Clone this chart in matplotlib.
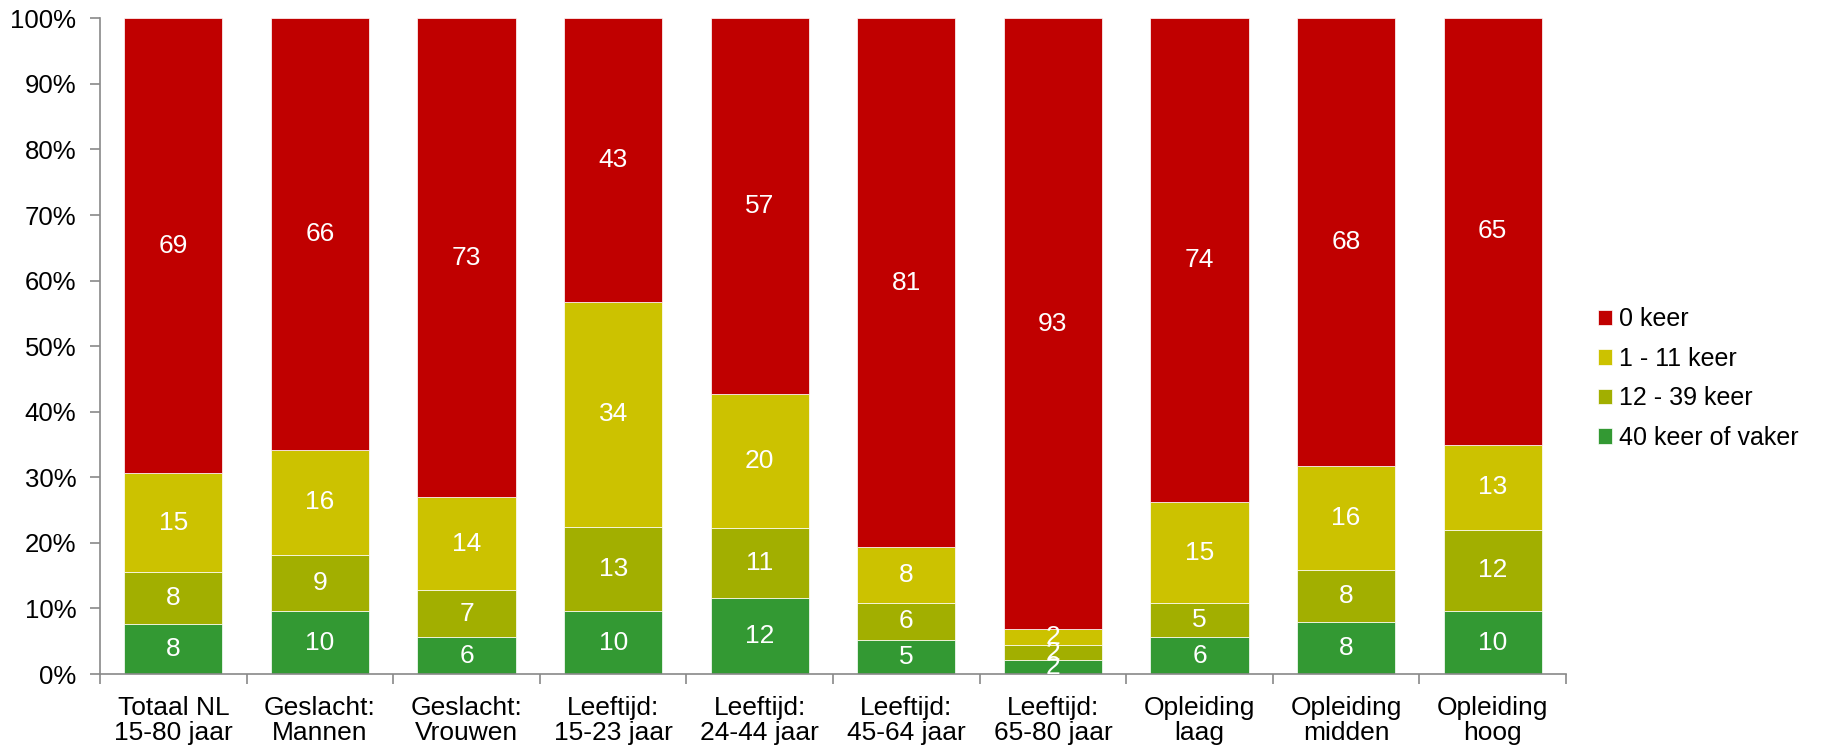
import numpy as np
import matplotlib
matplotlib.use('Agg')
import matplotlib.pyplot as plt
from matplotlib.ticker import PercentFormatter

plt.rcParams['font.family'] = ['Liberation Sans', 'DejaVu Sans']

categories = ['Totaal NL\n15-80 jaar', 'Geslacht:\nMannen', 'Geslacht:\nVrouwen',
              'Leeftijd:\n15-23 jaar', 'Leeftijd:\n24-44 jaar', 'Leeftijd:\n45-64 jaar',
              'Leeftijd:\n65-80 jaar', 'Opleiding\nlaag', 'Opleiding\nmidden', 'Opleiding\nhoog']

# percentages per group, bottom to top of the stack
keer_40_plus = [7.6, 9.6, 5.6, 9.6, 11.6, 5.2, 2.1, 5.6, 8.0, 9.6]
keer_12_39 = [7.9, 8.6, 7.2, 12.8, 10.7, 5.7, 2.3, 5.2, 7.8, 12.4]
keer_1_11 = [15.1, 16.0, 14.2, 34.4, 20.4, 8.4, 2.4, 15.4, 16.0, 13.0]
keer_0 = [69.4, 65.8, 73.0, 43.2, 57.3, 80.7, 93.2, 73.8, 68.2, 65.0]

series = [
    ('40 keer of vaker', keer_40_plus, '#339933'),
    ('12 - 39 keer', keer_12_39, '#a2af00'),
    ('1 - 11 keer', keer_1_11, '#ccc200'),
    ('0 keer', keer_0, '#c00000'),
]

fig = plt.figure(figsize=(18.26, 7.51), dpi=100)
ax = fig.add_axes([0.0548, 0.1025, 0.8028, 0.8731])

x = np.arange(len(categories))
totals = np.sum([s[1] for s in series], axis=0)
bottom = np.zeros(len(categories))
handles = []
for name, vals, color in series:
    pct = np.array(vals) / totals * 100
    bars = ax.bar(x, pct, 0.67, bottom=bottom, color=color, edgecolor='white',
                  linewidth=0.5, label=name)
    for xi, b, v, p in zip(x, bottom, vals, pct):
        ax.text(xi, b + p / 2, f'{v:.0f}', ha='center', va='center',
                color='white', fontsize=19)
    bottom += pct
    handles.append(bars)

ax.set_xlim(-0.5, len(categories) - 0.5)
ax.set_ylim(0, 100)
ax.yaxis.set_major_formatter(PercentFormatter(decimals=0))
ax.set_yticks(np.arange(0, 101, 10))

# category labels sit between separator ticks
ax.set_xticks(x)
ax.set_xticklabels(categories, fontsize=19, linespacing=1.05)
ax.tick_params(axis='x', length=0, pad=16)
ax.set_xticks(np.arange(-0.5, len(categories)), minor=True)
ax.tick_params(axis='x', which='minor', length=7, color='#898989', width=1.2)
ax.tick_params(axis='y', length=7, color='#898989', width=1.2, labelsize=18.5, pad=10)

for side in ['top', 'right']:
    ax.spines[side].set_visible(False)
for side in ['left', 'bottom']:
    ax.spines[side].set_color('#898989')
    ax.spines[side].set_linewidth(1.2)

leg = fig.legend(handles[::-1], [s[0] for s in series][::-1], loc='center left',
                 bbox_to_anchor=(0.875, 0.496), frameon=False, fontsize=18,
                 handlelength=0.56, handleheight=0.56, handletextpad=0.3,
                 labelspacing=0.62, borderpad=0, borderaxespad=0)

fig.savefig('out.png', dpi=100)
